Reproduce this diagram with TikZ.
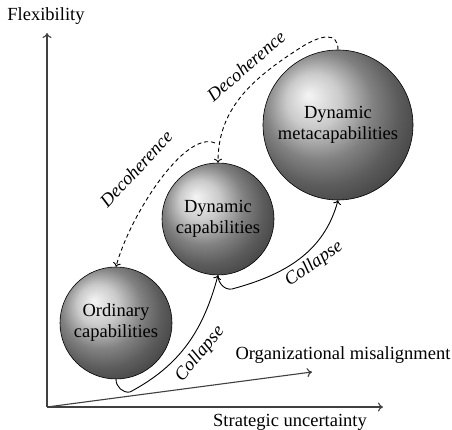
\documentclass[tikz,border=0pt]{standalone}
\usepackage{fontspec}
\setmainfont{Liberation Serif}
\usetikzlibrary{arrows.meta}
\begin{document}
\begin{tikzpicture}[x=1pt, y=1pt,
        every node/.style={font=\fontsize{18.5}{21}\selectfont},
        axis/.style={draw=black!75, line width=1.1pt, -{To[length=5pt,width=9pt]}},
        sphere/.style={circle, draw=black, line width=0.6pt, ball color=gray!55, align=center, inner sep=0pt},
        collapse/.style={line width=0.9pt, -{To[length=4pt,width=8pt]}},
        decoh/.style={collapse, dash pattern=on 4pt off 3pt},
        lbl/.style={font=\fontsize{18.5}{21}\selectfont\itshape}]
        \useasboundingbox (0,0) rectangle (452,430);
        % \draw[help lines, step=50] (0,0) grid (452,430);

        \coordinate (O) at (47, 23);
        \coordinate (flex) at (47, 397);
        \coordinate (strat) at (383, 23);
        \coordinate (misal) at (312, 58);
        \draw[axis] (O) -- (flex);
        \draw[axis] (O) -- (strat);
        \draw[axis] (O) -- (misal);

        \node (flexlbl) at (46, 414) {Flexibility};
        \node (stratlbl) at (290, 8) {Strategic uncertainty};
        \node (misallbl) at (343, 75) {Organizational misalignment};

        \node[sphere, minimum size=112] (ord) at (116, 107) {Ordinary\\capabilities};
        \node[sphere, minimum size=112] (dyn) at (218, 211) {Dynamic\\capabilities};
        \node[sphere, minimum size=150] (meta) at (338, 305) {Dynamic\\metacapabilities};

        \draw[collapse] (ord.south) to[out=-90, in=190] (130, 38) to[out=28, in=-105] (dyn.south);
        \draw[collapse] (dyn.south) to[out=-90, in=190] (232, 141) to[out=15, in=-105] (meta.south);

        \coordinate (mid) at (215, 287);
        \draw[decoh] (meta.north) .. controls (338, 398) and (322, 396) .. (300, 382)
            .. controls (250, 350) and (218, 320) .. (dyn.north);
        \draw[decoh] (mid) .. controls (185, 300) and (130, 215) .. (ord.north);

        \node[lbl, rotate=47] (dec1) at (136, 261) {Decoherence};
        \node[lbl, rotate=41] (dec2) at (246, 364) {Decoherence};
        \node[lbl, rotate=50] (col1) at (200, 76) {Collapse};
        \node[lbl, rotate=35] (col2) at (314, 166) {Collapse};
    \end{tikzpicture}
\end{document}
